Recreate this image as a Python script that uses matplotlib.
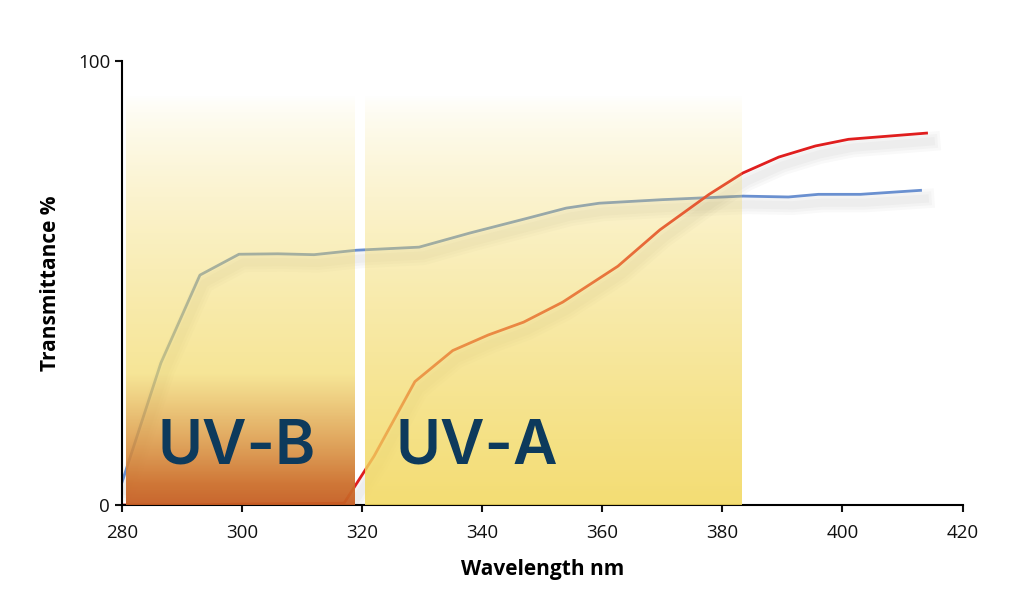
import numpy as np
import matplotlib
matplotlib.use('Agg')
import matplotlib.pyplot as plt
import matplotlib.patheffects as pe

# transmittance curves
blue_nm = [280, 286.5, 293, 299.5, 306, 312, 319, 329.5, 338, 347.5, 354, 359.5, 370, 383.5, 391, 396, 403, 413]
blue_pct = [5, 32, 51.8, 56.5, 56.6, 56.4, 57.4, 58.1, 61.3, 64.6, 66.9, 68, 68.8, 69.6, 69.4, 70, 70, 70.9]

red_nm = [280, 290, 300, 310, 317, 322, 328.8, 335.1, 341, 346.9, 353.4, 362.6, 369.6, 377.8, 383.4, 389.4, 395.5, 401, 414]
red_pct = [0, 0, 0.2, 0.3, 0.4, 11, 27.8, 34.8, 38.3, 41.2, 45.7, 53.8, 62, 70, 74.8, 78.4, 80.9, 82.4, 83.8]

# UV bands (start, end, top)
uvb = (280.7, 318.8, 92.3)
uva = (320.5, 383.2, 92.3)

plt.rcParams['font.family'] = ['Open Sans', 'DejaVu Sans']

fig = plt.figure(figsize=(10.24, 6.06), dpi=100)
ax = fig.add_axes([0.119, 0.1667, 0.821, 0.7323])

# soft drop shadow: a few wide, faint strokes
shadow = [pe.SimpleLineShadow(offset=(3, -6), shadow_color='k', alpha=0.025, linewidth=w) for w in (14, 10, 6)]
shadow.append(pe.Normal())
ax.plot(blue_nm, blue_pct, color='#6a90d0', lw=2, zorder=2, path_effects=shadow)
ax.plot(red_nm, red_pct, color='#e01e1e', lw=2, zorder=2, path_effects=shadow)

# vertical gradients laid over the curves
n = 300
t = np.linspace(0, 1, n)[:, None, None]  # 0 = bottom, 1 = top
yellow = np.array([0.95, 0.85, 0.38])
orange = np.array([0.78, 0.37, 0.14])

alpha = 0.88 * (1 - t[..., 0]) ** 0.75
img_a = np.zeros((n, 1, 4))
img_a[..., :3] = yellow
img_a[..., 3] = alpha
ax.imshow(img_a, extent=(uva[0], uva[1], 0, uva[2]), origin='lower', aspect='auto', zorder=3)

s = np.clip((0.32 - t) / 0.32, 0, 1) ** 0.9
img_b = np.zeros((n, 1, 4))
img_b[..., :3] = yellow * (1 - s) + orange * s
img_b[..., 3] = np.clip(alpha + 0.12 * s[..., 0], 0, 0.95)
ax.imshow(img_b, extent=(uvb[0], uvb[1], 0, uvb[2]), origin='lower', aspect='auto', zorder=3)

ax.text(286, 9.3, 'UV-B', fontsize=44, fontweight='semibold', family=['Inter', 'DejaVu Sans'],
        color='#0d3a5c', ha='left', va='baseline', zorder=4)
ax.text(325.5, 9.3, 'UV-A', fontsize=44, fontweight='semibold', family=['Inter', 'DejaVu Sans'],
        color='#0d3a5c', ha='left', va='baseline', zorder=4)

ax.set_xlim(280, 420)
ax.set_ylim(0, 100)
ax.set_xticks(np.arange(280, 421, 20))
ax.set_yticks([0, 100])
for side in ['top', 'right']:
    ax.spines[side].set_visible(False)
for side in ['left', 'bottom']:
    ax.spines[side].set_linewidth(1.5)
ax.tick_params(direction='out', length=5, width=1.5, labelsize=13.5, colors='#111111')
ax.tick_params(axis='x', pad=9)
ax.set_xlabel('Wavelength nm', fontsize=15, fontweight='bold', labelpad=12)
ax.set_ylabel('Transmittance %', fontsize=15, fontweight='bold', labelpad=12)

fig.savefig('out.png', dpi=100)
